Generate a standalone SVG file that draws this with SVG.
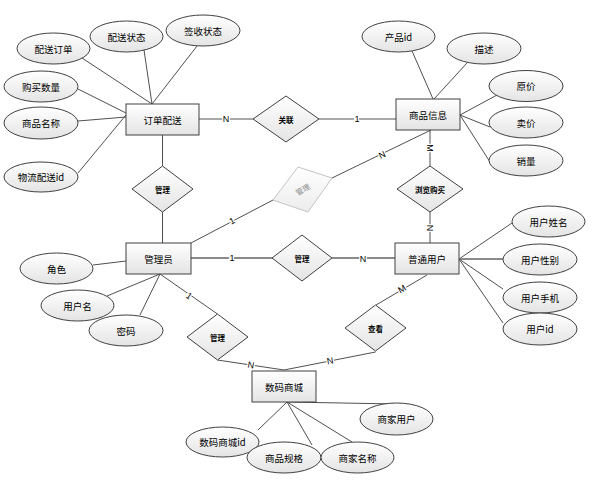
<svg xmlns="http://www.w3.org/2000/svg" width="596" height="483" viewBox="0 0 596 483">
<defs>
<linearGradient id="g" x1="0" y1="0" x2="0" y2="1">
<stop offset="0" stop-color="#ffffff"/>
<stop offset="1" stop-color="#e4e4e4"/>
</linearGradient>
<linearGradient id="gf" x1="0" y1="0" x2="0" y2="1">
<stop offset="0" stop-color="#ffffff"/>
<stop offset="1" stop-color="#ececec"/>
</linearGradient>
</defs>
<style>
.e rect{fill:url(#g);stroke:#404040;stroke-width:1}
.a ellipse{fill:url(#g);stroke:#404040;stroke-width:1}
.r polygon{fill:url(#g);stroke:#404040;stroke-width:1}
.t{font-family:"Noto Sans CJK SC","Liberation Sans",sans-serif;font-size:9.5px;fill:#000;text-anchor:middle;dominant-baseline:central}
.s{font-family:"Noto Sans CJK SC","Liberation Sans",sans-serif;font-size:7.5px;fill:#000;text-anchor:middle;dominant-baseline:central;font-weight:bold}
.cb{font-family:"Liberation Sans",sans-serif;font-size:9px;fill:#000;text-anchor:middle;dominant-baseline:central;paint-order:stroke;stroke:#fff;stroke-width:2.5}
#conn line{stroke:#505050;stroke-width:1}
#conn line.k{stroke:#8a8a8a;stroke-width:2.2}
</style>
<g id="conn">
<line x1="82" y1="58" x2="152" y2="104"/>
<line x1="144" y1="50" x2="152" y2="104"/>
<line x1="197" y1="46" x2="152" y2="104"/>
<line x1="78" y1="89" x2="126" y2="113"/>
<line x1="78" y1="121" x2="126" y2="117"/>
<line x1="78" y1="173" x2="126" y2="115"/>
<line x1="199" y1="119" x2="253" y2="119"/>
<line x1="319" y1="119" x2="396" y2="119"/>
<line x1="162.5" y1="135" x2="162.5" y2="166"/>
<line x1="162.5" y1="212" x2="162.5" y2="243"/>
<line x1="412" y1="51" x2="433" y2="99"/>
<line x1="467" y1="63" x2="434" y2="99"/>
<line x1="497" y1="95" x2="460" y2="115"/>
<line x1="490" y1="127" x2="460" y2="115"/>
<line x1="490" y1="162" x2="460" y2="115"/>
<line x1="430" y1="130" x2="430" y2="166"/>
<line x1="430" y1="212" x2="430" y2="243"/>
<line x1="431" y1="130" x2="332" y2="178"/>
<line x1="273" y1="200" x2="191" y2="243"/>
<line class="k" x1="191" y1="258" x2="273" y2="258"/>
<line class="k" x1="332" y1="258" x2="395" y2="258"/>
<line x1="93" y1="265" x2="126" y2="261"/>
<line x1="107" y1="296" x2="160" y2="274"/>
<line x1="140" y1="315" x2="160" y2="274"/>
<line x1="160" y1="274" x2="217.5" y2="314"/>
<line x1="459" y1="259" x2="512" y2="223"/>
<line class="k" x1="459" y1="259" x2="503" y2="259"/>
<line x1="459" y1="259" x2="503" y2="289"/>
<line x1="459" y1="259" x2="503" y2="323"/>
<line x1="427" y1="275" x2="376" y2="305"/>
<line x1="375.5" y1="352" x2="284" y2="370"/>
<line x1="217.5" y1="360" x2="284" y2="370"/>
<line x1="287" y1="402" x2="397" y2="404"/>
<line x1="258" y1="430" x2="287" y2="402"/>
<line x1="312" y1="445" x2="287" y2="402"/>
<line x1="352" y1="442" x2="287" y2="402"/>
</g>
<g id="labels">
<text class="cb" x="226" y="119">N</text>
<text class="cb" x="357" y="119">1</text>
<text class="cb" x="430" y="148" transform="rotate(90 430 148)">M</text>
<text class="cb" x="430" y="228" transform="rotate(90 430 228)">N</text>
<text class="cb" x="382" y="155" transform="rotate(-26 382 155)">N</text>
<text class="cb" x="232" y="221" transform="rotate(-28 232 221)">1</text>
<text class="cb" x="232" y="258">1</text>
<text class="cb" x="363" y="259">N</text>
<text class="cb" x="189" y="296" transform="rotate(35 189 296)">1</text>
<text class="cb" x="402" y="289" transform="rotate(-30 402 289)">M</text>
<text class="cb" x="330" y="361" transform="rotate(-11 330 361)">N</text>
<text class="cb" x="251" y="365" transform="rotate(9 251 365)">N</text>
</g>
<g id="e-order" class="e"><rect x="126" y="104" width="73" height="31"/><text class="t" x="162.5" y="119.5">订单配送</text></g>
<g id="e-goods" class="e"><rect x="396" y="99" width="64" height="31"/><text class="t" x="428" y="114.5">商品信息</text></g>
<g id="e-admin" class="e"><rect x="126" y="243" width="65" height="31"/><text class="t" x="158.5" y="258.5">管理员</text></g>
<g id="e-user" class="e"><rect x="395" y="243" width="64" height="31"/><text class="t" x="427" y="258.5">普通用户</text></g>
<g id="e-mall" class="e"><rect x="252" y="371" width="64" height="31"/><text class="t" x="284" y="386.5">数码商城</text></g>
<g id="r-guanlian" class="r"><polygon points="253,119 286,96 319,119 286,142"/><text class="s" x="286" y="119">关联</text></g>
<g id="r-guanli1" class="r"><polygon points="132,189 162.5,166 193,189 162.5,212"/><text class="s" x="162.5" y="189">管理</text></g>
<g id="r-guanli-faded"><polygon points="273,200 298,167 332,178 308,212" fill="url(#gf)" stroke="#c4c4c4" stroke-width="1"/><text class="s" x="302.5" y="189" transform="rotate(-30 302.5 189)" style="fill:#8c8c8c;font-weight:normal">管理</text></g>
<g id="r-guanli2" class="r"><polygon points="272,258 302,235 332,258 302,281"/><text class="s" x="302" y="258">管理</text></g>
<g id="r-liulan" class="r"><polygon points="397,189 430,166 463,189 430,212"/><text class="s" x="430" y="189">浏览购买</text></g>
<g id="r-guanli3" class="r"><polygon points="187,337 217.5,314 248,337 217.5,360"/><text class="s" x="217.5" y="337">管理</text></g>
<g id="r-chakan" class="r"><polygon points="345,328 375.5,305 406,328 375.5,351"/><text class="s" x="375.5" y="328">查看</text></g>
<g id="a-psdd" class="a"><ellipse cx="53.5" cy="48.5" rx="36.5" ry="15.5"/><text class="t" x="53.5" y="48.5">配送订单</text></g>
<g id="a-pszt" class="a"><ellipse cx="126.5" cy="36.5" rx="36.5" ry="15.5"/><text class="t" x="126.5" y="36.5">配送状态</text></g>
<g id="a-qszt" class="a"><ellipse cx="203" cy="30.5" rx="37" ry="15.5"/><text class="t" x="203" y="30.5">签收状态</text></g>
<g id="a-gmsl" class="a"><ellipse cx="41" cy="86.5" rx="37" ry="15.5"/><text class="t" x="41" y="86.5">购买数量</text></g>
<g id="a-spmc" class="a"><ellipse cx="41" cy="123" rx="37" ry="16"/><text class="t" x="41" y="123">商品名称</text></g>
<g id="a-wlps" class="a"><ellipse cx="41" cy="177" rx="37" ry="15"/><text class="t" x="41" y="177">物流配送id</text></g>
<g id="a-cpid" class="a"><ellipse cx="398.5" cy="36.5" rx="36.5" ry="15.5"/><text class="t" x="398.5" y="36.5">产品id</text></g>
<g id="a-ms" class="a"><ellipse cx="484" cy="48.5" rx="37" ry="15.5"/><text class="t" x="484" y="48.5">描述</text></g>
<g id="a-yj" class="a"><ellipse cx="526" cy="86" rx="37" ry="15.5"/><text class="t" x="526" y="86">原价</text></g>
<g id="a-mj" class="a"><ellipse cx="526" cy="122.5" rx="37" ry="15.5"/><text class="t" x="526" y="122.5">卖价</text></g>
<g id="a-xl" class="a"><ellipse cx="526" cy="160.5" rx="37" ry="15.5"/><text class="t" x="526" y="160.5">销量</text></g>
<g id="a-js" class="a"><ellipse cx="56.5" cy="268.5" rx="36.5" ry="15.5"/><text class="t" x="56.5" y="268.5">角色</text></g>
<g id="a-yhm" class="a"><ellipse cx="77.5" cy="305.5" rx="36.5" ry="15.5"/><text class="t" x="77.5" y="305.5">用户名</text></g>
<g id="a-mm" class="a"><ellipse cx="126" cy="330.5" rx="37" ry="15.5"/><text class="t" x="126" y="330.5">密码</text></g>
<g id="a-yhxm" class="a"><ellipse cx="548.5" cy="221.5" rx="36.5" ry="15.5"/><text class="t" x="548.5" y="221.5">用户姓名</text></g>
<g id="a-yhxb" class="a"><ellipse cx="540" cy="259.5" rx="37" ry="15.5"/><text class="t" x="540" y="259.5">用户性别</text></g>
<g id="a-yhsj" class="a"><ellipse cx="540" cy="297.5" rx="37" ry="15.5"/><text class="t" x="540" y="297.5">用户手机</text></g>
<g id="a-yhid" class="a"><ellipse cx="540" cy="329" rx="37" ry="16"/><text class="t" x="540" y="329">用户id</text></g>
<g id="a-sjyh" class="a"><ellipse cx="396.5" cy="419" rx="36.5" ry="16"/><text class="t" x="396.5" y="419">商家用户</text></g>
<g id="a-smscid" class="a"><ellipse cx="222.5" cy="442" rx="36.5" ry="15"/><text class="t" x="222.5" y="442">数码商城id</text></g>
<g id="a-spgg" class="a"><ellipse cx="284" cy="457.5" rx="37" ry="15.5"/><text class="t" x="284" y="457.5">商品规格</text></g>
<g id="a-sjmc" class="a"><ellipse cx="357.5" cy="457.5" rx="36.5" ry="15.5"/><text class="t" x="357.5" y="457.5">商家名称</text></g>
</svg>
